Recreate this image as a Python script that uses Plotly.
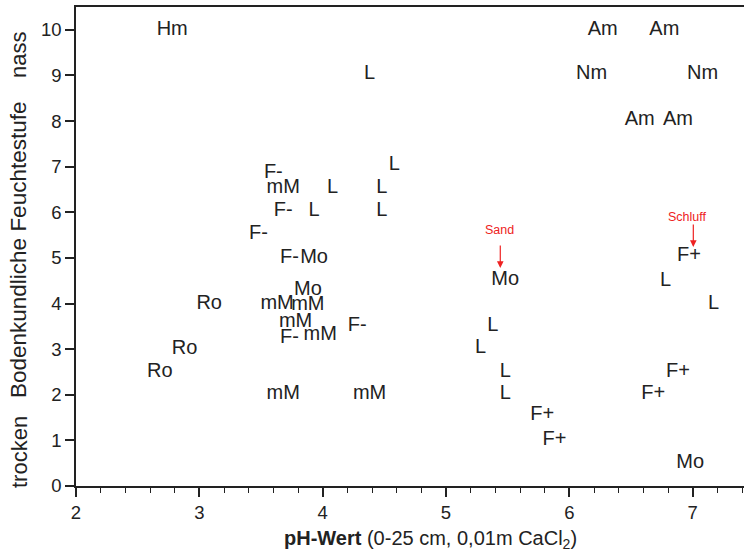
import plotly.graph_objects as go

labels = ["Hm", "L", "Am", "Am", "Nm", "Nm", "Am", "Am", "L",
          "F-", "mM", "L", "L", "F-", "L", "L", "F-", "F-", "Mo",
          "Mo", "Ro", "mM", "mM", "mM", "F-", "mM", "F-", "Ro", "Ro",
          "mM", "mM", "Mo", "L", "L", "L", "L", "F+", "F+",
          "F+", "L", "L", "F+", "F+", "Mo"]
ph = [2.78, 4.38, 6.27, 6.77, 6.18, 7.08, 6.57, 6.88, 4.58,
      3.60, 3.68, 4.08, 4.48, 3.68, 3.93, 4.48, 3.48, 3.73, 3.93,
      3.88, 3.08, 3.63, 3.88, 3.78, 3.73, 3.98, 4.28, 2.88, 2.68,
      3.68, 4.38, 5.48, 5.38, 5.28, 5.48, 5.48, 5.78, 5.88,
      6.97, 6.78, 7.17, 6.88, 6.68, 6.98]
feuchte = [10.0, 9.03, 10.0, 10.0, 9.03, 9.03, 8.03, 8.03, 7.03,
           6.86, 6.53, 6.53, 6.53, 6.03, 6.03, 6.03, 5.53, 5.0, 5.0,
           4.3, 4.0, 4.0, 3.96, 3.6, 3.25, 3.31, 3.51, 3.0, 2.5,
           2.02, 2.02, 4.52, 3.51, 3.03, 2.5, 2.02, 1.56, 1.01,
           5.05, 4.5, 3.99, 2.5, 2.02, 0.51]

x_ticks = [2, 3, 4, 5, 6, 7]
y_ticks = list(range(0, 11))

# arrow annotations: (label, head x, head y)
arrow_notes = [("Sand", 5.44, 4.78), ("Schluff", 7.005, 5.24)]

FONT = "Liberation Sans, Arial, sans-serif"
TXT = "#222222"

fig = go.Figure()
fig.add_trace(go.Scatter(
    x=ph, y=feuchte, mode="text", text=labels,
    textposition="middle center",
    textfont=dict(family=FONT, size=20, color=TXT),
    hoverinfo="skip", showlegend=False,
))

for lab, hx, hy in arrow_notes:
    fig.add_annotation(x=hx, y=hy, xref="x", yref="y", text="",
                       showarrow=True, arrowhead=2, arrowsize=1.1,
                       arrowwidth=1.2, arrowcolor="#ee2222",
                       ax=0, ay=-24)
    fig.add_annotation(x=hx, y=hy, xref="x", yref="y", text=lab,
                       showarrow=False, yshift=38 if lab == "Sand" else 30,
                       xshift=-1 if lab == "Sand" else -6,
                       font=dict(family=FONT, size=12.5, color="#ee2222"))

# y-axis title pieces
for txt, py, fs in [("nass", 55, 22), ("Bodenkundliche Feuchtestufe", 250, 22.5), ("trocken", 452, 22)]:
    fig.add_annotation(x=(19 - 76) / 668, y=(486 - py) / 479, xref="paper", yref="paper",
                       text=txt, textangle=-90, showarrow=False,
                       xanchor="center", yanchor="middle",
                       font=dict(family=FONT, size=fs, color=TXT))

fig.add_annotation(x=(430 - 76) / 668, y=(486 - 539) / 479, xref="paper", yref="paper",
                   text="<b>pH-Wert</b> (0-25 cm, 0,01m CaCl<sub>2</sub>)",
                   showarrow=False, xanchor="center", yanchor="middle",
                   font=dict(family=FONT, size=20, color=TXT))

fig.update_xaxes(range=[2, 7.416], tickvals=x_ticks, ticktext=[str(v) for v in x_ticks],
                 showline=True, linecolor="#222", linewidth=1.5, mirror=True,
                 ticks="outside", ticklen=9, tickwidth=1.5, tickcolor="#222",
                 minor=dict(dtick=0.2, tick0=2, ticks="outside", ticklen=5,
                            tickwidth=1.2, tickcolor="#222"),
                 showgrid=False, zeroline=False,
                 tickfont=dict(family=FONT, size=18.5, color=TXT))
fig.update_yaxes(range=[0, 10.5], tickvals=y_ticks,
                 showline=True, linecolor="#222", linewidth=1.5,
                 ticks="outside", ticklen=9, tickwidth=1.5, tickcolor="#222",
                 showgrid=False, zeroline=False,
                 tickfont=dict(family=FONT, size=18.5, color=TXT))

fig.update_layout(width=744, height=552,
                  margin=dict(l=76, r=0, t=7, b=66),
                  plot_bgcolor="white", paper_bgcolor="white")

fig.write_html("out.html", config={"displayModeBar": False},
               post_script="document.body.style.margin='0';document.body.style.overflow='hidden';")
